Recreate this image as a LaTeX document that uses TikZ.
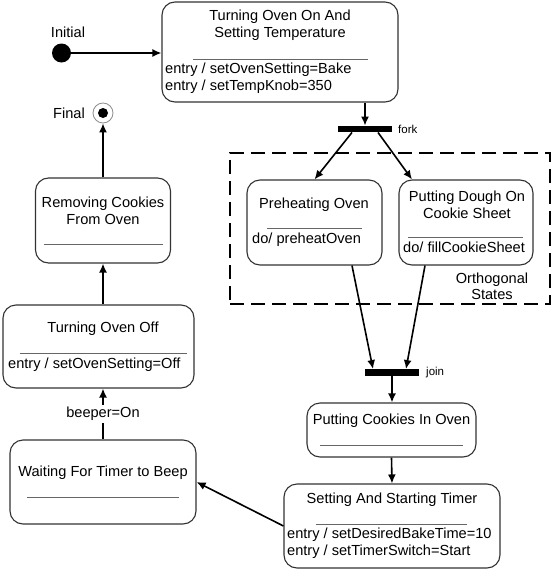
\documentclass[tikz,border=0pt]{standalone}
\usepackage{fontspec}
\setmainfont{Liberation Sans}
\usetikzlibrary{arrows.meta}

\begin{document}
\begin{tikzpicture}[x=1pt, y=-1pt,
	state/.style={draw=black!80, line width=1.1pt, rounded corners=13pt, inner sep=0pt},
	bar/.style={fill=black, inner sep=0pt, minimum width=54pt, minimum height=6.5pt},
	sep/.style={draw=black!60, line width=0.9pt},
	trans/.style={-{Latex[length=9pt,width=8pt]}, line width=1.6pt},
	txt/.style={font=\fontsize{14.6}{16.5}\selectfont, inner sep=0pt, align=center},
	act/.style={font=\fontsize{14.6}{17.5}\selectfont, inner sep=0pt, align=left, anchor=west},
	small/.style={font=\fontsize{11.5}{13}\selectfont, inner sep=0pt, anchor=west},
	region/.style={draw, line width=2.4pt, dash pattern=on 14pt off 7pt, inner sep=0pt}]
	\useasboundingbox (0,0) rectangle (553,570);
	% initial and final
	\node[circle, fill=black, inner sep=0pt, minimum size=19pt] (init) at (61.5,53) {};
	\node[txt] (initlbl) at (68,32) {Initial};
	\node[circle, draw=black!45, line width=0.8pt, inner sep=0pt, minimum size=20pt] (final) at (103,113) {};
	\node[circle, fill=black, inner sep=0pt, minimum size=10pt] (finaldot) at (final) {};
	\node[txt] (finallbl) at (69,113) {Final};
	% states
	\node[state, minimum width=236pt, minimum height=100pt] (on) at (280,52) {};
	\node[txt] (onname) at (280,25) {Turning Oven On And\\Setting Temperature};
	\draw[sep] (193,59) -- (368,59);
	\node[act] (onact) at (165,78) {entry / setOvenSetting=Bake\\entry / setTempKnob=350};
	\node[region, minimum width=320pt, minimum height=151pt] (ortho) at (390,228.5) {};
	\node[txt] (ortholbl) at (492,286.5) {Orthogonal\\States};
	\node[state, minimum width=135pt, minimum height=85pt] (pre) at (314.5,222.5) {};
	\node[txt] (prename) at (314,205) {Preheating Oven};
	\draw[sep] (267,228) -- (362,228);
	\node[act] (preact) at (252,240) {do/ preheatOven};
	\node[state, minimum width=134pt, minimum height=85pt] (dough) at (466,222.5) {};
	\node[txt] (doughname) at (467,205) {Putting Dough On\\Cookie Sheet};
	\draw[sep] (408,237) -- (523,237);
	\node[act] (doughact) at (403,247) {do/ fillCookieSheet};
	\node[state, minimum width=169pt, minimum height=54pt] (cookies) at (391.5,430) {};
	\node[txt] (cookiesname) at (391.5,421) {Putting Cookies In Oven};
	\draw[sep] (320,445) -- (463,445);
	\node[state, minimum width=216pt, minimum height=84pt] (timer) at (392,526) {};
	\node[txt] (timername) at (392,500) {Setting And Starting Timer};
	\draw[sep] (316,524) -- (467,524);
	\node[act] (timeract) at (287,543) {entry / setDesiredBakeTime=10\\entry / setTimerSwitch=Start};
	\node[state, minimum width=186pt, minimum height=84pt] (wait) at (103,482) {};
	\node[txt] (waitname) at (103,473) {Waiting For Timer to Beep};
	\draw[sep] (27,497) -- (179,497);
	\node[state, minimum width=191pt, minimum height=83pt] (off) at (98.5,346.5) {};
	\node[txt] (offname) at (103,329) {Turning Oven Off};
	\draw[sep] (20,353) -- (187,353);
	\node[act] (offact) at (8,365) {entry / setOvenSetting=Off};
	\node[state, minimum width=135pt, minimum height=85pt] (remove) at (103,220.5) {};
	\node[txt] (removename) at (103,211) {Removing Cookies\\From Oven};
	\draw[sep] (44,244) -- (163,244);
	% fork and join
	\node[bar] (fork) at (365,129) {};
	\node[small] (forklbl) at (398,129) {fork};
	\node[bar] (join) at (392,372.5) {};
	\node[small] (joinlbl) at (426,372.5) {join};
	% transitions
	\draw[trans] (init) -- (init -| on.west);
	\draw[trans] (on.south -| fork) -- (fork.north);
	\draw[trans] ([xshift=-13pt]fork.south) -- (pre.north);
	\draw[trans] ([xshift=13pt]fork.south) -- ([xshift=-54pt]dough.north);
	\draw[trans] ([xshift=37.5pt]pre.south) -- ([xshift=-19pt]join.north);
	\draw[trans] ([xshift=-41pt]dough.south) -- ([xshift=14pt]join.north);
	\draw[trans] (join.south) -- (join.south |- cookies.north);
	\draw[trans] (cookies.south) -- (timer.north);
	\draw[trans] (timer.west) -- (wait.east);
	\draw[trans] (wait.north) -- (wait.north |- off.south) node[txt, midway, fill=white, inner sep=2pt] (beeper) {beeper=On};
	\draw[trans] (remove.south |- off.north) -- (remove.south);
	\draw[trans] (remove.north) -- (final.south);
\end{tikzpicture}
\end{document}
